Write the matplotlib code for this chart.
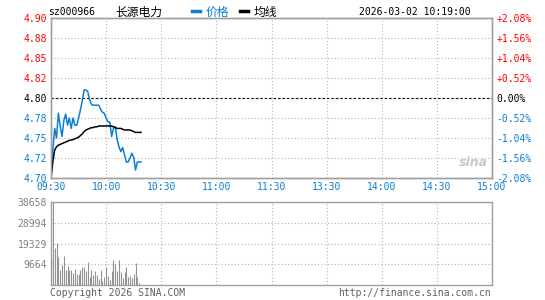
import matplotlib
matplotlib.use('Agg')
import matplotlib.pyplot as plt
import numpy as np

# Intraday data for sz000966, one value per minute from 09:30 to 10:19
prev_close = 4.80
price = [4.705, 4.735, 4.762, 4.750, 4.781, 4.765, 4.752, 4.772, 4.780, 4.766,
         4.775, 4.762, 4.775, 4.766, 4.766, 4.775, 4.785, 4.796, 4.810, 4.810,
         4.808, 4.798, 4.792, 4.791, 4.791, 4.791, 4.791, 4.786, 4.782, 4.781,
         4.775, 4.770, 4.770, 4.752, 4.762, 4.764, 4.748, 4.739, 4.733, 4.738,
         4.729, 4.720, 4.720, 4.725, 4.731, 4.726, 4.710, 4.720, 4.720, 4.720]
avg_price = [4.700, 4.720, 4.735, 4.739, 4.741, 4.742, 4.743, 4.744, 4.745, 4.746,
             4.747, 4.7475, 4.748, 4.749, 4.750, 4.751, 4.753, 4.755, 4.758, 4.760,
             4.761, 4.762, 4.763, 4.763, 4.764, 4.764, 4.765, 4.765, 4.765, 4.765,
             4.765, 4.765, 4.765, 4.765, 4.764, 4.763, 4.762, 4.762, 4.762, 4.761,
             4.760, 4.760, 4.760, 4.760, 4.759, 4.758, 4.757, 4.757, 4.757, 4.757]
volume = [12600, 38658, 17200, 19600, 13000, 7100, 9500, 13400, 7100, 8700,
          7100, 7100, 5600, 7500, 5100, 5100, 7100, 8200, 8200, 6400,
          10700, 3600, 7100, 4800, 6600, 4500, 2900, 7000, 2000, 3600,
          8500, 4300, 2300, 6500, 11600, 9600, 6500, 11600, 6200, 3400,
          6200, 8500, 3900, 4300, 3400, 5000, 10100, 3900, 800, 0]

price_ticks = [4.70, 4.725, 4.75, 4.775, 4.80, 4.825, 4.85, 4.875, 4.90]
price_labels = ['4.70', '4.72', '4.75', '4.78', '4.80', '4.82', '4.85', '4.88', '4.90']
pct_labels = ['-2.08%', '-1.56%', '-1.04%', '-0.52%', '0.00%',
              '+0.52%', '+1.04%', '+1.56%', '+2.08%']
time_ticks = [0, 30, 60, 90, 120, 150, 180, 210, 240]
time_labels = ['09:30', '10:00', '10:30', '11:00', '11:30',
               '13:30', '14:00', '14:30', '15:00']
vol_ticks = [9664, 19329, 28994, 38658]
vol_labels = ['9664', '19329', '28994', '38658']

blue = '#0a7fd2'
red = '#ff0000'
grey = '#a0a0a0'
mono = 'DejaVu Sans Mono'
cjk = ['Noto Sans CJK SC', 'DejaVu Sans']

fig = plt.figure(figsize=(5.45, 3.0), dpi=100)
W, H = 545, 300
ax = fig.add_axes([51 / W, 122 / H, 441 / W, 160 / H])
axv = fig.add_axes([51 / W, 15 / H, 441 / W, 83 / H])

minutes = np.arange(len(price))

# price panel
ax.plot(minutes, price, color=blue, lw=1.1, zorder=3)
ax.plot(minutes, avg_price, color='black', lw=1.1, zorder=3)
ax.axhline(prev_close, color='black', lw=0.8, ls=(0, (2, 2)), zorder=2)
ax.set_xlim(0, 240)
ax.set_ylim(4.70, 4.90)
ax.set_yticks(price_ticks)
ax.set_yticklabels(price_labels, fontfamily=mono, fontsize=7)
for lab, v in zip(ax.get_yticklabels(), price_ticks):
    lab.set_color(red if v > prev_close else ('black' if v == prev_close else blue))
ax.set_xticks(time_ticks)
ax.set_xticklabels(time_labels, fontfamily=mono, fontsize=7, color=blue)
ax.tick_params(length=0, pad=3)
ax.grid(True, color='#b4b4b4', ls=(0, (1, 2)), lw=0.8)

ax2 = ax.twinx()
ax2.set_ylim(4.70, 4.90)
ax2.set_yticks(price_ticks)
ax2.set_yticklabels(pct_labels, fontfamily=mono, fontsize=7)
for lab, v in zip(ax2.get_yticklabels(), price_ticks):
    lab.set_color(red if v > prev_close else ('black' if v == prev_close else blue))
ax2.tick_params(length=0, pad=3)

# volume panel, one thin grey bar per minute
axv.vlines(minutes, 0, volume, colors='#939393', lw=0.8, zorder=3)
axv.set_xlim(0, 240)
axv.set_ylim(0, 38658)
axv.set_yticks(vol_ticks)
axv.set_yticklabels(vol_labels, fontfamily=mono, fontsize=7, color='#808080')
axv.set_xticks(time_ticks)
axv.set_xticklabels([])
axv.tick_params(length=0, pad=3)
axv.grid(True, color='#b4b4b4', ls=(0, (1, 2)), lw=0.8)

for a in (ax, ax2, axv):
    for s in a.spines.values():
        s.set_color(grey)
        s.set_linewidth(1.0)

# header
fig.text(48 / W, 1 - 12 / H, 'sz000966', fontfamily=mono, fontsize=7, va='center')
fig.text(115 / W, 1 - 12 / H, '长源电力', family=cjk, fontsize=8.5, va='center')
fig.add_artist(plt.Line2D([192 / W, 200 / W], [1 - 11 / H] * 2, color=blue, lw=2.5))
fig.text(206 / W, 1 - 12 / H, '价格', family=cjk, fontsize=8.5, va='center', color=blue)
fig.add_artist(plt.Line2D([240 / W, 248 / W], [1 - 11 / H] * 2, color='black', lw=2.5))
fig.text(254 / W, 1 - 12 / H, '均线', family=cjk, fontsize=8.5, va='center')
fig.text(471 / W, 1 - 12 / H, '2026-03-02 10:19:00', fontfamily=mono, fontsize=7,
         va='center', ha='right')

# footer and watermark
fig.text(50 / W, 1 - 293 / H, 'Copyright 2026 SINA.COM', fontfamily=mono, fontsize=7,
         va='center', color='#606060')
fig.text(491 / W, 1 - 293 / H, 'http://finance.sina.com.cn', fontfamily=mono, fontsize=7,
         va='center', ha='right', color='#606060')
fig.text(473 / W, 1 - 162 / H, 'sina', fontsize=9, style='italic', weight='bold',
         color='#c8c8c8', ha='center', va='center')

fig.savefig('out.png', dpi=100)
